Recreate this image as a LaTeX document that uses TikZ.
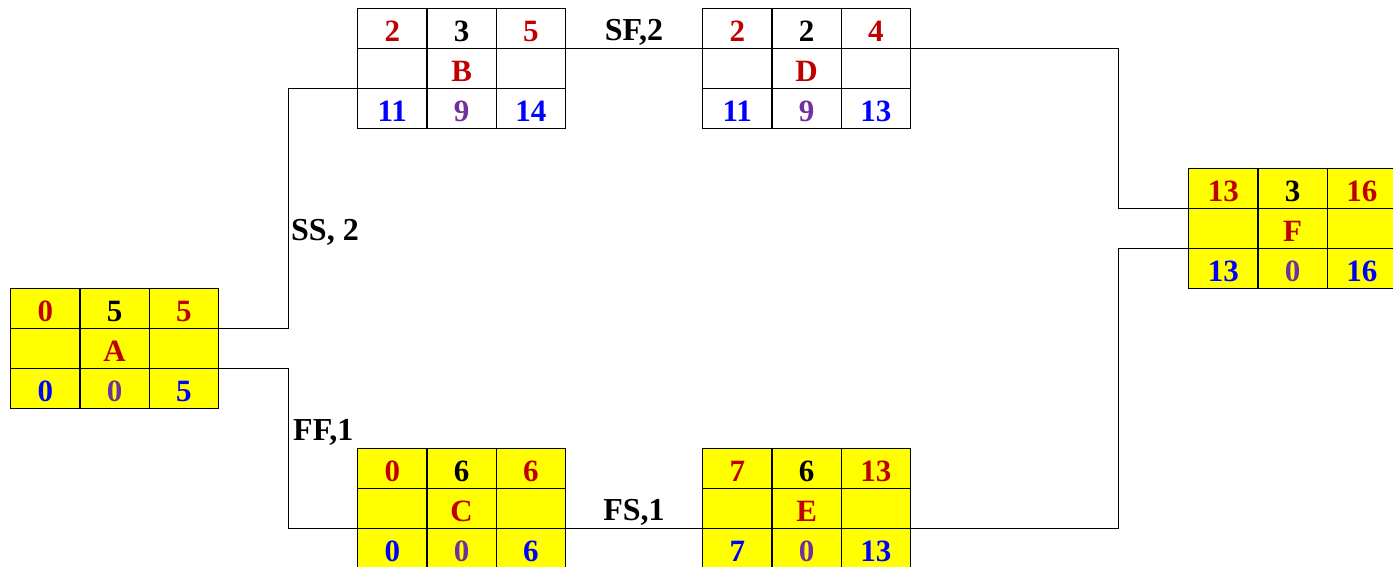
\documentclass[tikz,border=0pt]{standalone}
\usepackage{fontspec}
\setmainfont{Liberation Serif}
\usetikzlibrary{matrix}
\definecolor{esred}{RGB}{192,0,0}
\definecolor{lsblue}{RGB}{0,0,255}
\definecolor{tfpurple}{RGB}{112,48,160}
\definecolor{actyellow}{RGB}{255,255,0}
\tikzset{
  cellbase/.style={draw=black, line width=1.2pt, minimum width=69.33pt, minimum height=40pt,
    inner sep=0pt, anchor=center, text height=26pt, text depth=0pt,
    font=\bfseries\fontsize{31}{31}\selectfont},
  actmat/.style={matrix of nodes, nodes in empty cells, anchor=north west,
    inner sep=0pt, outer sep=0pt, column sep=-1.2pt, row sep=-1.2pt,
    nodes={cellbase},
    row 1 column 1/.style={nodes={text=esred}},
    row 1 column 3/.style={nodes={text=esred}},
    row 2 column 2/.style={nodes={text=esred}},
    row 3 column 1/.style={nodes={text=lsblue}},
    row 3 column 2/.style={nodes={text=tfpurple}},
    row 3 column 3/.style={nodes={text=lsblue}}},
  crit/.style={nodes={fill=actyellow}},
  noncrit/.style={nodes={fill=white}},
  link/.style={draw=black, line width=1.1pt},
  lbl/.style={font=\bfseries\fontsize{32}{32}\selectfont, inner sep=0pt}
}
\begin{document}
\begin{tikzpicture}[x=1pt,y=-1pt]
\useasboundingbox (0,0) rectangle (1393,567);
\matrix (A) [actmat, crit] at (10,288) {0 & 5 & 5 \\ & A & \\ 0 & 0 & 5 \\};
\matrix (B) [actmat, noncrit] at (357,8) {2 & 3 & 5 \\ & B & \\ 11 & 9 & 14 \\};
\matrix (D) [actmat, noncrit] at (702,8) {2 & 2 & 4 \\ & D & \\ 11 & 9 & 13 \\};
\matrix (C) [actmat, crit] at (357,448) {0 & 6 & 6 \\ & C & \\ 0 & 0 & 6 \\};
\matrix (E) [actmat, crit] at (702,448) {7 & 6 & 13 \\ & E & \\ 7 & 0 & 13 \\};
\matrix (F) [actmat, crit] at (1188,168) {13 & 3 & 16 \\ & F & \\ 13 & 0 & 16 \\};
\draw[link] (A-1-3.south east) -- ++(70,0) |- (B-2-1.south west);
\draw[link] (A-2-3.south east) -- ++(70,0) |- (C-2-1.south west);
\draw[link] (B-1-3.south east) -- (D-1-1.south west);
\draw[link] (C-2-3.south east) -- (E-2-1.south west);
\draw[link] (D-1-3.south east) -- ++(208,0) |- (F-1-1.south west);
\draw[link] (E-2-3.south east) -- ++(208,0) |- (F-2-1.south west);
\node[lbl, anchor=west] (lss) at (291,232) {SS, 2};
\node[lbl, anchor=west] (lff) at (293,432) {FF,1};
\node[lbl] (lsf) at (634,32) {SF,2};
\node[lbl] (lfs) at (634,512) {FS,1};
\end{tikzpicture}
\end{document}
